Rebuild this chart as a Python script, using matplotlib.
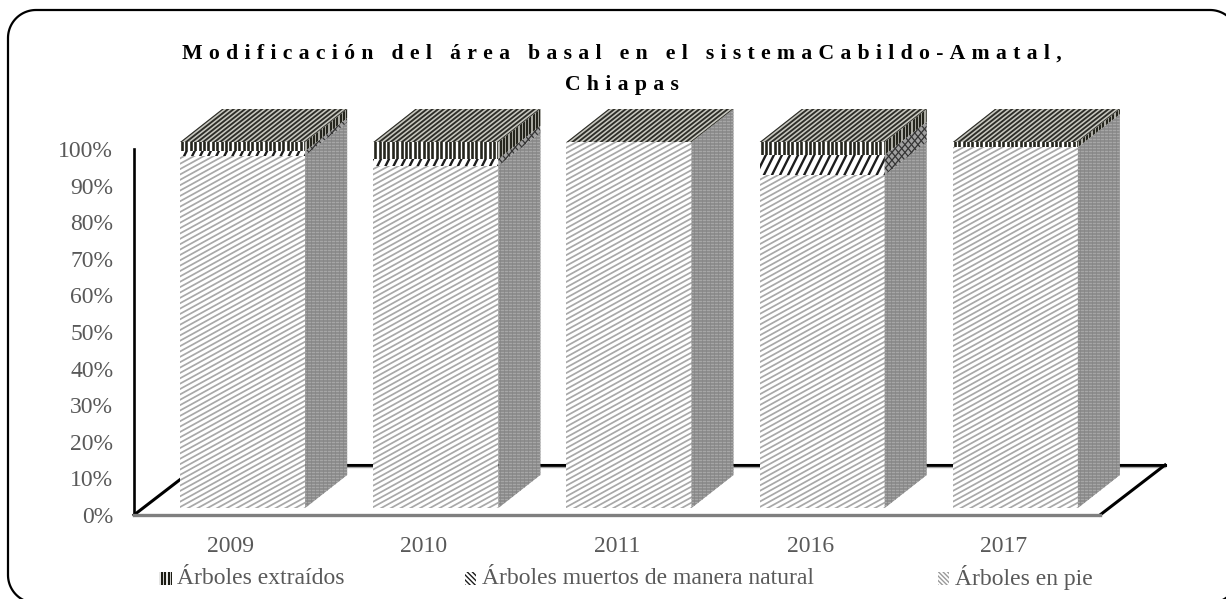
import numpy as np
import matplotlib
matplotlib.use("Agg")
import matplotlib.pyplot as plt
from matplotlib.collections import LineCollection
from matplotlib.lines import Line2D
from matplotlib.patches import Polygon
from matplotlib.transforms import Affine2D, IdentityTransform

years = ["2009", "2010", "2011", "2016", "2017"]
en_pie = [96.3, 93.5, 100.0, 91.0, 98.6]
muertos = [1.2, 1.9, 0.0, 5.5, 0.0]
extraidos = [2.5, 4.6, 0.0, 3.5, 1.4]
legend_labels = ["Árboles extraídos", "Árboles muertos de manera natural", "Árboles en pie"]
title_lines = ["Modificación del área basal en el sistemaCabildo-Amatal,", "Chiapas"]

W, H = 1226, 599
TRACK = "\u2009\u200a"
plt.rcParams["font.family"] = ["Liberation Serif", "DejaVu Sans"]
TEXT = "#595959"

fig = plt.figure(figsize=(W / 100, H / 100), dpi=100, facecolor="white")
ax = fig.add_axes([134 / W, 84 / H, 966 / W, 366 / H])
ax.set_xlim(-0.5, 4.5)
ax.set_ylim(0, 100)
ax.patch.set_visible(False)
for s in ["top", "right"]:
    ax.spines[s].set_visible(False)
ax.spines["left"].set_linewidth(1.9)
ax.spines["left"].set_color("black")
ax.spines["bottom"].set_linewidth(2.4)
ax.spines["bottom"].set_color("#7f7f7f")
ax.set_xticks(range(5), years)
ax.set_yticks(range(0, 101, 10), [f"{v}%" for v in range(0, 101, 10)])
ax.tick_params(length=0, labelcolor=TEXT, labelsize=17)
ax.tick_params(axis="y", pad=15)
ax.tick_params(axis="x", pad=15)

# floor of the 3d box, behind the bars
floor = ax.transData + Affine2D().translate(65, 50)
ax.plot([-0.5, 4.5], [0, 0], color="black", lw=2.2, transform=floor, clip_on=False, zorder=1)
ax.plot([-0.5, 4.5], [-0.6, -0.6], color="#a6a6a6", lw=1, transform=floor, clip_on=False, zorder=1)
pts = np.array([[134, 84], [199, 134], [1100, 84], [1165, 134]])
ax.plot(pts[:2, 0], pts[:2, 1], color="black", lw=2.2, transform=IdentityTransform(), clip_on=False, zorder=1)
ax.plot(pts[2:, 0], pts[2:, 1], color="black", lw=2.2, transform=IdentityTransform(), clip_on=False, zorder=1)

bar_trans = ax.transData + Affine2D().translate(12, 7)
DX, DY = 42, 33
bar_w = 0.647


def stripes(poly, base, color, lw, direction, step, z=3):
    # fill poly and lay parallel lines over it, clipped to poly
    poly = np.asarray(poly, float)
    patch = Polygon(poly, closed=True, facecolor=base, edgecolor="none",
                    transform=IdentityTransform(), zorder=z)
    fig.add_artist(patch)
    d = np.array(direction, float)
    d = d / np.hypot(*d)
    n = np.array([-d[1], d[0]])
    proj = poly @ n
    along = poly @ d
    segs = []
    for c in np.arange(proj.min() - step, proj.max() + step, step):
        segs.append([n * c + d * (along.min() - 5), n * c + d * (along.max() + 5)])
    lc = LineCollection(segs, colors=color, linewidths=lw, transform=IdentityTransform(), zorder=z)
    fig.add_artist(lc)
    lc.set_clip_path(patch)


def front(i, y0, y1):
    return bar_trans.transform([(i - bar_w / 2, y0), (i + bar_w / 2, y0), (i + bar_w / 2, y1), (i - bar_w / 2, y1)])


def side(i, y0, y1):
    p = bar_trans.transform([(i + bar_w / 2, y0), (i + bar_w / 2, y1)])
    return [p[0], p[0] + (DX, DY), p[1] + (DX, DY), p[1]]


for i in range(len(years)):
    a = en_pie[i]
    b = a + muertos[i]
    c = b + extraidos[i]
    # in pie
    stripes(front(i, 0, a), "white", "#a8a8a8", 1.25, (1, 0.55), 4.7)
    stripes(side(i, 0, a), "#8d8d8d", "#a6a6a6", 0.8, (1, 0), 3.0)
    stripes(side(i, 0, a), "none", "#858585", 0.5, (0, 1), 4.0)
    # dead trees
    if muertos[i] > 0:
        stripes(front(i, a, b), "white", "#1c1c1c", 1.7, (0.5, 1), 7.2)
        stripes(side(i, a, b), "#a0a0a0", "#333333", 0.9, (1, 1.2), 5.0)
        stripes(side(i, a, b), "none", "#333333", 0.9, (1, -1.2), 5.0)
    # extracted
    if extraidos[i] > 0:
        stripes(front(i, b, c), "white", "#25251d", 1.9, (0, 1), 4.4)
        stripes(side(i, b, c), "#b0b0a8", "#25251d", 1.5, (0, 1), 3.3)
    # top face
    t = front(i, 0, 100)[2:][::-1]
    top = [t[0], t[1], t[1] + (DX, DY), t[0] + (DX, DY)]
    stripes(top, "#c8c8c0", "#2d2d28", 1.35, (DX, DY), 3.5)

# legend placed by hand like the original
key_x = [159, 465, 938]
key_w = [13, 11, 11]
text_x = [177, 482, 955]
key_styles = [("white", "#1c1c14", 1.6, (0, 1), 3.4), ("white", "#1c1c1c", 1.0, (1, -1), 3.6),
              ("white", "#9a9a9a", 1.0, (1, -1), 3.2)]
for kx, kw, tx, label, st in zip(key_x, key_w, text_x, legend_labels, key_styles):
    sq = [(kx, H - 585), (kx + kw, H - 585), (kx + kw, H - 572), (kx, H - 572)]
    stripes(sq, st[0], st[1], st[2], st[3], st[4])
    fig.text(tx / W, (H - 578) / H, label, fontsize=17, color=TEXT, ha="left", va="center")

for line, y in zip(title_lines, [54, 85]):
    fig.text(622 / W, (H - y) / H, TRACK.join(line), fontsize=15.7, fontweight="bold", color="black",
             ha="center", va="center")

# frame runs a little past the right and bottom of the picture
x0, x1, y0, y1, r = 8, 1238, H - 603, H - 10, 28
ang = np.linspace(0, np.pi / 2, 24)
arc = np.column_stack([np.cos(ang), np.sin(ang)]) * r
outline = np.vstack([arc + (x1 - r, y1 - r), arc[:, ::-1] * (-1, 1) + (x0 + r, y1 - r),
                     arc * (-1, -1) + (x0 + r, y0 + r), arc[:, ::-1] * (1, -1) + (x1 - r, y0 + r)])
outline = np.vstack([outline, outline[:1]])
fig.add_artist(Line2D(outline[:, 0], outline[:, 1], color="black", lw=1.6,
                      transform=IdentityTransform(), zorder=5))

fig.savefig("out.png", dpi=100)
